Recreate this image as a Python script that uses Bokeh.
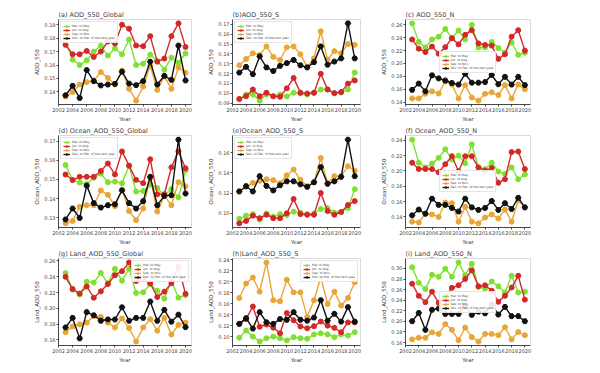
from bokeh.plotting import figure
from bokeh.layouts import column, row
from bokeh.models import Range1d, FixedTicker, PrintfTickFormatter, Legend, LegendItem
from bokeh.embed import file_html
from bokeh.resources import INLINE

years = [2003, 2004, 2005, 2006, 2007, 2008, 2009, 2010, 2011,
         2012, 2013, 2014, 2015, 2016, 2017, 2018, 2019, 2020]
x_ticks = [2002, 2004, 2006, 2008, 2010, 2012, 2014, 2016, 2018, 2020]
season_labels = ["Mar. to May", "Jun. to Aug.", "Sep. to Nov.", "Dec. to Feb. of the next year"]

# (a) AOD_550_Global
a_mam = [0.178, 0.164, 0.160, 0.1635, 0.170, 0.1743, 0.167, 0.1723, 0.168, 0.179, 0.160, 0.161, 0.1677, 0.163, 0.1566, 0.1655, 0.1617, 0.1686]
a_jja = [0.175, 0.168, 0.168, 0.1705, 0.166, 0.170, 0.1775, 0.176, 0.190, 0.187, 0.1745, 0.174, 0.1815, 0.1625, 0.1648, 0.1815, 0.191, 0.1735]
a_son = [0.1365, 0.140, 0.1455, 0.1472, 0.1485, 0.1547, 0.1504, 0.1455, 0.1559, 0.1423, 0.1335, 0.1440, 0.1594, 0.1415, 0.1515, 0.1423, 0.1582, 0.1543]
a_djf = [0.1375, 0.1445, 0.1355, 0.1562, 0.148, 0.1448, 0.1455, 0.146, 0.155, 0.1462, 0.145, 0.148, 0.1625, 0.1455, 0.152, 0.149, 0.1745, 0.1485]
# (b) AOD_550_S
b_mam = [0.0942, 0.0987, 0.0987, 0.0925, 0.099, 0.0968, 0.0987, 0.0968, 0.1005, 0.0998, 0.0987, 0.1002, 0.1038, 0.1038, 0.0998, 0.1008, 0.1038, 0.121]
b_jja = [0.0942, 0.097, 0.1038, 0.097, 0.1006, 0.097, 0.0964, 0.105, 0.1156, 0.1006, 0.0998, 0.1006, 0.1198, 0.1038, 0.1002, 0.1012, 0.1098, 0.113]
b_son = [0.1284, 0.1348, 0.1406, 0.139, 0.1476, 0.137, 0.1338, 0.1466, 0.1476, 0.1396, 0.1268, 0.1354, 0.163, 0.1342, 0.1428, 0.1406, 0.150, 0.1492]
b_djf = [0.121, 0.1268, 0.1194, 0.1374, 0.1262, 0.1226, 0.1278, 0.1306, 0.1338, 0.1284, 0.1262, 0.1316, 0.1476, 0.129, 0.1322, 0.1354, 0.171, 0.1354]
# (c) AOD_550_N
c_mam = [0.2624, 0.2336, 0.2249, 0.2374, 0.2417, 0.2538, 0.2393, 0.2513, 0.2374, 0.260, 0.2249, 0.2249, 0.2336, 0.224, 0.2167, 0.2326, 0.2134, 0.2167]
c_jja = [0.2374, 0.223, 0.2177, 0.2263, 0.2153, 0.2254, 0.2393, 0.2297, 0.2446, 0.2518, 0.2312, 0.2288, 0.2278, 0.2071, 0.2143, 0.2417, 0.2518, 0.22]
c_son = [0.1456, 0.1456, 0.1528, 0.1567, 0.1533, 0.172, 0.1672, 0.1456, 0.1663, 0.147, 0.1422, 0.1528, 0.1552, 0.1509, 0.1663, 0.1456, 0.1672, 0.16]
c_djf = [0.159, 0.1687, 0.1567, 0.1816, 0.1768, 0.1735, 0.1696, 0.1672, 0.184, 0.1701, 0.1701, 0.1711, 0.1821, 0.1677, 0.1792, 0.1672, 0.1792, 0.1663]
# (d) Ocean_AOD_550_Global
d_mam = [0.1575, 0.1498, 0.1484, 0.1476, 0.1509, 0.153, 0.1486, 0.1489, 0.1481, 0.1572, 0.1437, 0.144, 0.1473, 0.1456, 0.1415, 0.1451, 0.1407, 0.1547]
d_jja = [0.1526, 0.1497, 0.1514, 0.1514, 0.1514, 0.1544, 0.1583, 0.1526, 0.1646, 0.1572, 0.1498, 0.1481, 0.1605, 0.1423, 0.1423, 0.1563, 0.1646, 0.1558]
d_son = [0.1272, 0.1284, 0.1358, 0.1366, 0.1366, 0.1443, 0.142, 0.1361, 0.1448, 0.1336, 0.1288, 0.1349, 0.1509, 0.1333, 0.1415, 0.1366, 0.1486, 0.1465]
d_djf = [0.1292, 0.1349, 0.130, 0.1468, 0.1377, 0.1354, 0.1366, 0.1371, 0.1443, 0.1377, 0.1349, 0.1387, 0.1514, 0.1366, 0.1415, 0.1418, 0.1707, 0.1427]
# (e) Ocean_AOD_550_S
e_mam = [0.0946, 0.0977, 0.0992, 0.0937, 0.0998, 0.0967, 0.0992, 0.0983, 0.1016, 0.1007, 0.0992, 0.0998, 0.1043, 0.1052, 0.1007, 0.1013, 0.1052, 0.1239]
e_jja = [0.0901, 0.0925, 0.0977, 0.0952, 0.0986, 0.0952, 0.0952, 0.100, 0.1142, 0.0992, 0.0986, 0.0986, 0.1202, 0.1022, 0.0986, 0.1013, 0.1082, 0.1121]
e_son = [0.1217, 0.1263, 0.1302, 0.1323, 0.1338, 0.1329, 0.1299, 0.1377, 0.1434, 0.1332, 0.1269, 0.1308, 0.1549, 0.1299, 0.1368, 0.1368, 0.1467, 0.1422]
e_djf = [0.1217, 0.1269, 0.1217, 0.1368, 0.1272, 0.1227, 0.1278, 0.1317, 0.1317, 0.1287, 0.1263, 0.1308, 0.1458, 0.1293, 0.1317, 0.1362, 0.173, 0.1368]
# (f) Ocean_AOD_550_N
f_mam = [0.2408, 0.2108, 0.2046, 0.2096, 0.2171, 0.2283, 0.215, 0.220, 0.210, 0.2346, 0.2046, 0.2025, 0.2108, 0.1992, 0.1963, 0.2046, 0.1892, 0.1954]
f_jja = [0.2108, 0.2025, 0.2025, 0.2025, 0.1983, 0.2088, 0.2192, 0.1996, 0.2192, 0.2192, 0.2046, 0.2004, 0.2038, 0.1846, 0.1892, 0.2246, 0.2254, 0.2025]
f_son = [0.1338, 0.1329, 0.1442, 0.1433, 0.140, 0.1588, 0.1579, 0.1338, 0.1533, 0.1338, 0.1317, 0.1392, 0.1433, 0.1379, 0.1496, 0.1338, 0.1617, 0.1525]
f_djf = [0.1421, 0.1496, 0.1442, 0.1638, 0.1558, 0.1558, 0.1517, 0.1471, 0.1638, 0.1525, 0.1492, 0.1517, 0.1608, 0.1492, 0.1579, 0.1504, 0.165, 0.1525]
# (g) Land_AOD_550_Global
g_mam = [0.2446, 0.2236, 0.2175, 0.2337, 0.2325, 0.2446, 0.2317, 0.2499, 0.2349, 0.2499, 0.2195, 0.2203, 0.2304, 0.2223, 0.2122, 0.2349, 0.2134, 0.2167]
g_jja = [0.2398, 0.2244, 0.2187, 0.2276, 0.2134, 0.2215, 0.2308, 0.2418, 0.247, 0.258, 0.2345, 0.2369, 0.2317, 0.2143, 0.2211, 0.2317, 0.2527, 0.2183]
g_son = [0.1697, 0.177, 0.1798, 0.1819, 0.1904, 0.1891, 0.1819, 0.1758, 0.1871, 0.175, 0.158, 0.1758, 0.1863, 0.1717, 0.1879, 0.1669, 0.179, 0.1819]
g_djf = [0.1758, 0.1879, 0.162, 0.1952, 0.1912, 0.1843, 0.1859, 0.1859, 0.2013, 0.1843, 0.1879, 0.1879, 0.2086, 0.1843, 0.1981, 0.1831, 0.192, 0.1762]
# (h) Land_AOD_550_S
h_mam = [0.098, 0.111, 0.100, 0.091, 0.097, 0.100, 0.097, 0.093, 0.099, 0.097, 0.096, 0.104, 0.106, 0.104, 0.099, 0.104, 0.102, 0.108]
h_jja = [0.1233, 0.132, 0.155, 0.118, 0.122, 0.1164, 0.106, 0.143, 0.1298, 0.1186, 0.1152, 0.119, 0.1275, 0.120, 0.116, 0.108, 0.126, 0.126]
h_son = [0.1705, 0.1969, 0.2078, 0.182, 0.2354, 0.1664, 0.1647, 0.2038, 0.1808, 0.1808, 0.136, 0.1664, 0.2084, 0.1595, 0.182, 0.1567, 0.1705, 0.1992]
h_djf = [0.1233, 0.1337, 0.1147, 0.1446, 0.1262, 0.1233, 0.132, 0.1308, 0.1446, 0.1308, 0.1291, 0.1348, 0.1664, 0.1291, 0.1417, 0.1274, 0.1538, 0.1274]
# (i) Land_AOD_550_N
i_mam = [0.3024, 0.273, 0.261, 0.288, 0.2844, 0.2994, 0.2844, 0.3114, 0.2874, 0.309, 0.2652, 0.2622, 0.2754, 0.2664, 0.2544, 0.2862, 0.2544, 0.2562]
i_jja = [0.2712, 0.2483, 0.2363, 0.2562, 0.2351, 0.2453, 0.2634, 0.2682, 0.2802, 0.2964, 0.2664, 0.2682, 0.258, 0.2369, 0.2483, 0.264, 0.2862, 0.2411]
i_son = [0.166, 0.169, 0.169, 0.1793, 0.1763, 0.1949, 0.1841, 0.1643, 0.1883, 0.1703, 0.1619, 0.1763, 0.1763, 0.1739, 0.1889, 0.166, 0.1799, 0.1739]
i_djf = [0.2003, 0.2159, 0.1841, 0.2219, 0.2243, 0.2141, 0.2141, 0.2141, 0.2291, 0.2123, 0.2183, 0.2153, 0.2321, 0.2129, 0.2273, 0.2099, 0.2099, 0.2003]

ticks_a = [0.14, 0.15, 0.16, 0.17, 0.18, 0.19]
ticks_b = [0.09, 0.10, 0.11, 0.12, 0.13, 0.14, 0.15, 0.16, 0.17]
ticks_c = [0.14, 0.16, 0.18, 0.20, 0.22, 0.24, 0.26]
ticks_d = [0.13, 0.14, 0.15, 0.16, 0.17]
ticks_e = [0.10, 0.12, 0.14, 0.16]
ticks_f = [0.14, 0.16, 0.18, 0.20, 0.22, 0.24]
ticks_g = [0.16, 0.18, 0.20, 0.22, 0.24, 0.26]
ticks_h = [0.10, 0.12, 0.14, 0.16, 0.18, 0.20, 0.22, 0.24]
ticks_i = [0.16, 0.18, 0.20, 0.22, 0.24, 0.26, 0.28, 0.30]

FONT = "DejaVu Sans"
COLORS = ["#7FE030", "#D42828", "#E9A637", "#111111"]
MARKERS = ["circle", "circle", "circle", "hex"]

# the page body has no margin, so the first column/row carry the 8px offset
COLS = [dict(w=205, bl=58, br=14), dict(w=173, bl=22, br=18), dict(w=214, bl=20, br=62)]
ROWS = [dict(h=124, bt=19, bb=14), dict(h=123, bt=11, bb=17), dict(h=118, bt=11, bb=16)]


def panel(title, ylabel, series, yticks, legend_loc, legend_margin, ci, ri):
    allv = [v for s in series for v in s]
    lo, hi = min(allv), max(allv)
    pad = (hi - lo) * 0.05
    c, r = COLS[ci], ROWS[ri]
    p = figure(width=c["w"], height=r["h"], output_backend="svg", toolbar_location=None,
               x_range=Range1d(2002, 2020.85), y_range=Range1d(lo - pad, hi + pad),
               min_border_left=c["bl"], min_border_right=c["br"],
               min_border_top=r["bt"], min_border_bottom=r["bb"])
    p.title.text = title
    p.title.text_font = FONT
    p.title.text_font_size = "6.5px"
    p.title.text_font_style = "normal"
    p.title.align = "left"
    p.title.standoff = 1
    p.xgrid.visible = False
    p.ygrid.visible = False
    p.outline_line_color = "#d0d0d0"
    p.outline_line_width = 0.8
    p.background_fill_color = "white"
    p.border_fill_color = "white"
    for ax in (p.xaxis[0], p.yaxis[0]):
        ax.major_label_text_font = FONT
        ax.major_label_text_font_size = "5px"
        ax.axis_label_text_font = FONT
        ax.axis_label_text_font_size = "5.5px"
        ax.axis_label_text_font_style = "normal"
        ax.major_tick_out = 2
        ax.major_tick_in = 0
        ax.minor_tick_out = 0
        ax.minor_tick_in = 0
        ax.major_label_standoff = 1
        ax.axis_label_standoff = 1
        ax.axis_line_color = "#222222"
        ax.axis_line_width = 0.8
        ax.major_tick_line_color = "#222222"
        ax.major_tick_line_width = 0.8
    p.xaxis.ticker = FixedTicker(ticks=x_ticks)
    p.xaxis.axis_label = "Year"
    p.yaxis.ticker = FixedTicker(ticks=yticks)
    p.yaxis.formatter = PrintfTickFormatter(format="%.2f")
    p.yaxis.axis_label = ylabel

    items = []
    for vals, col, mk, lab in zip(series, COLORS, MARKERS, season_labels):
        lr = p.line(years, vals, line_color=col, line_width=1.4)
        sr = p.scatter(years, vals, marker=mk, size=5 if mk == "circle" else 5.5,
                       fill_color=col, line_color=col)
        items.append(LegendItem(label=lab, renderers=[lr, sr]))
    leg = Legend(items=items, location=legend_loc, margin=legend_margin,
                 label_text_font=FONT, label_text_font_size="3px",
                 label_height=4, glyph_height=4, glyph_width=7, spacing=0,
                 padding=2, label_standoff=2,
                 border_line_color="#cccccc", border_line_width=0.5,
                 background_fill_color="white", background_fill_alpha=0.9)
    p.add_layout(leg)
    return p


pa = panel("(a) AOD_550_Global", "AOD_550", [a_mam, a_jja, a_son, a_djf], ticks_a, "top_left", 2, 0, 0)
pb = panel("(b)AOD_550_S", "AOD_550", [b_mam, b_jja, b_son, b_djf], ticks_b, "top_left", 2, 1, 0)
pc = panel("(c)  AOD_550_N", "AOD_550", [c_mam, c_jja, c_son, c_djf], ticks_c, "center", 0, 2, 0)
pd_ = panel("(d) Ocean_AOD_550_Global", "Ocean_AOD_550", [d_mam, d_jja, d_son, d_djf], ticks_d, "top_left", 2, 0, 1)
pe = panel("(e)Ocean_AOD_550_S", "Ocean_AOD_550", [e_mam, e_jja, e_son, e_djf], ticks_e, "top_left", 2, 1, 1)
pf = panel("(f)  Ocean_AOD_550_N", "Ocean_AOD_550", [f_mam, f_jja, f_son, f_djf], ticks_f, "center", 0, 2, 1)
pg = panel("(g) Land_AOD_550_Global", "Land_AOD_550", [g_mam, g_jja, g_son, g_djf], ticks_g, "top_right", 2, 0, 2)
ph = panel("(h)Land_AOD_550_S", "Land_AOD_550", [h_mam, h_jja, h_son, h_djf], ticks_h, "top_right", 2, 1, 2)
pi = panel("(i)  Land_AOD_550_N", "Land_AOD_550", [i_mam, i_jja, i_son, i_djf], ticks_i, "center", 0, 2, 2)

layout = column(row(pa, pb, pc, spacing=0), row(pd_, pe, pf, spacing=0),
                row(pg, ph, pi, spacing=0), spacing=0)

open("out.html", "w").write(file_html(layout, INLINE))
